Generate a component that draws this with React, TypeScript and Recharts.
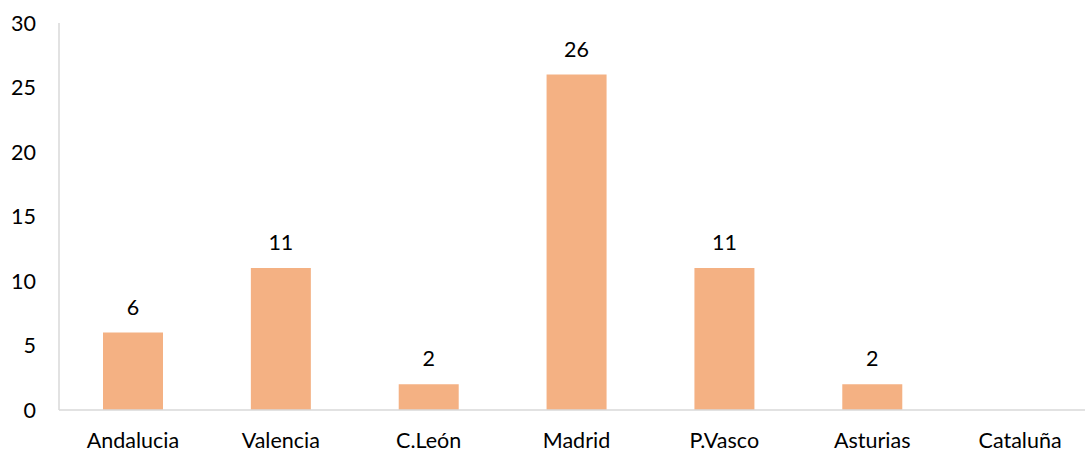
import React from 'react';
import { BarChart, Bar, XAxis, YAxis, LabelList } from 'recharts';

const regions = ['Andalucia', 'Valencia', 'C.León', 'Madrid', 'P.Vasco', 'Asturias', 'Cataluña'];
const counts: (number | null)[] = [6, 11, 2, 26, 11, 2, null];
const yTicks = [0, 5, 10, 15, 20, 25, 30];

const data = regions.map((region, i) => ({ region, count: counts[i] }));

const font = 'Lato, "Open Sans", sans-serif';
const fs = 21.5;

const App: React.FC = () => {
  return (
    <div style={{ position: 'fixed', left: 0, top: 0, width: 1085, height: 452, overflow: 'hidden', background: '#fff' }}>
      <BarChart
        width={1094}
        height={452}
        data={data}
        margin={{ top: 23, right: 0, left: 0, bottom: 0 }}
        style={{ fontFamily: font }}
      >
        <XAxis
          dataKey="region"
          height={42}
          axisLine={{ stroke: '#d9d9d9', strokeWidth: 1.5 }}
          tickLine={false}
          tickSize={6}
          tickMargin={17}
          tick={{ fill: '#000', fontSize: fs }}
          interval={0}
        />
        <YAxis
          width={59}
          domain={[0, 30]}
          ticks={yTicks}
          axisLine={{ stroke: '#d9d9d9', strokeWidth: 1.5 }}
          tickLine={false}
          tickSize={6}
          tickMargin={17}
          tick={{ fill: '#000', fontSize: fs }}
        />
        <Bar dataKey="count" fill="#F4B183" barSize={60} isAnimationActive={false}>
          <LabelList dataKey="count" position="top" offset={18} fill="#000" fontSize={fs} />
        </Bar>
      </BarChart>
    </div>
  );
};

export default App;
